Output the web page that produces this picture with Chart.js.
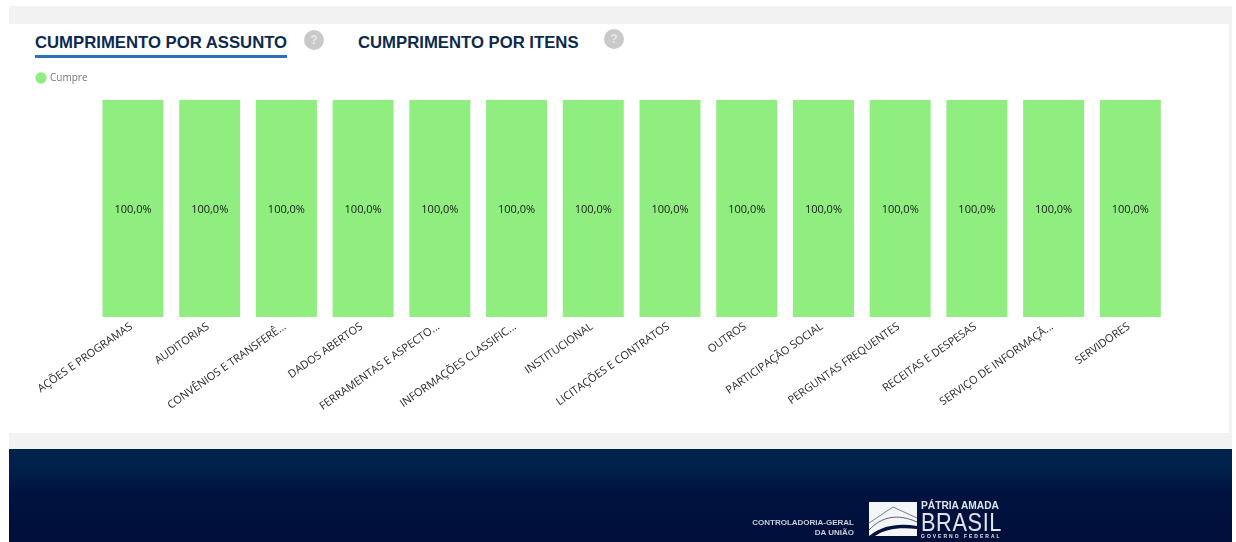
<!DOCTYPE html>
<html lang="pt-BR">
<head>
<meta charset="utf-8">
<title>Cumprimento por assunto</title>
<script src="https://cdn.jsdelivr.net/npm/chart.js@4/dist/chart.umd.min.js"></script>
<style>
  html, body { margin: 0; padding: 0; background: #fff; width: 1236px; height: 542px; overflow: hidden; }
  body { position: relative; font-family: "Liberation Sans", Arial, sans-serif; }
  .band { position: absolute; left: 9px; top: 6px; width: 1223px; height: 443px; background: #f2f2f2; }
  .card { position: absolute; left: 9px; top: 24px; width: 1220px; height: 409px; background: #fff; }
  .tab { position: absolute; font-weight: 700; font-size: 16.72px; line-height: 20px; color: #0c2a4e; white-space: nowrap; }
  .rule { position: absolute; left: 35px; top: 55px; width: 252px; height: 3px; background: #2b70bd; }
  .help { position: absolute; width: 20px; height: 20px; border-radius: 50%; background: #c9c9c9; color: #e8e8e8;
          font: 700 12px/20px "Liberation Sans", sans-serif; text-align: center; }
  #wrap { position: absolute; left: 9.5px; top: 40px; width: 1158.7px; height: 393px; }
  .footer { position: absolute; left: 9px; top: 449px; width: 1223px; height: 93px;
            background: linear-gradient(#00234d 0%, #00214b 22%, #001340 45%, #000f3a 100%); }
  .agency { position: absolute; right: 378px; top: 69px; width: 140px; text-align: right; color: #c9ced8;
            font: 700 8px/9.5px "Liberation Sans", sans-serif; filter: blur(.35px); }
  .motto { position: absolute; left: 912px; top: 50px; color: #dfe3ea; filter: blur(.3px); }
  .motto div { white-space: nowrap; transform-origin: 0 50%; }
  svg.mark { position: absolute; left: 860px; top: 52px; filter: blur(.3px); }
</style>
</head>
<body>
<div class="band"></div>
<div class="card"></div>
<div class="tab" style="left:35px;top:33px">CUMPRIMENTO POR ASSUNTO</div>
<div class="rule"></div>
<div class="help" style="left:304px;top:30px">?</div>
<div class="tab" style="left:358px;top:33px">CUMPRIMENTO POR ITENS</div>
<div class="help" style="left:604px;top:29px">?</div>
<div id="wrap"><canvas id="chart"></canvas></div>
<div class="footer">
  <div class="agency">CONTROLADORIA-GERAL<br>DA UNIÃO</div>
  <svg class="mark" width="49" height="36" viewBox="0 0 49 36">
    <rect x="0" y="1" width="48" height="34" fill="#f4f5f7"/>
    <path d="M0 22 L24 6 L48 17" fill="none" stroke="#6f7f96" stroke-width="1"/>
    <path d="M0 29 C12 16 28 12 48 21" fill="none" stroke="#53647f" stroke-width="1"/>
    <path d="M0 35 C14 24 30 22 48 25 L48 28 C30 26 16 28 6 35 Z" fill="#001340"/>
  </svg>
  <div class="motto">
    <div style="font:700 10.2px/12px 'Liberation Sans',sans-serif;margin-top:1px">PÁTRIA AMADA</div>
    <div style="font:400 25px/20px 'Liberation Sans',sans-serif;letter-spacing:.7px;transform:scaleX(.87)">BRASIL</div>
    <div style="font:700 5px/8px 'Liberation Sans',sans-serif;letter-spacing:2px">GOVERNO FEDERAL</div>
  </div>
</div>
<script>
// Compliance per subject
const categories = [
  "AÇÕES E PROGRAMAS", "AUDITORIAS", "CONVÊNIOS E TRANSFERÊ...", "DADOS ABERTOS",
  "FERRAMENTAS E ASPECTO...", "INFORMAÇÕES CLASSIFIC...", "INSTITUCIONAL",
  "LICITAÇÕES E CONTRATOS", "OUTROS", "PARTICIPAÇÃO SOCIAL", "PERGUNTAS FREQUENTES",
  "RECEITAS E DESPESAS", "SERVIÇO DE INFORMAÇÃ...", "SERVIDORES"
];
const cumpre = [100, 100, 100, 100, 100, 100, 100, 100, 100, 100, 100, 100, 100, 100];
const seriesName = "Cumpre";

const barGreen = "#90ee81";
const uiFont = '"Open Sans", sans-serif';

// Writes each bar's value, with a decimal comma, at the bar's centre
const valueLabels = {
  id: "valueLabels",
  afterDatasetsDraw(chart) {
    const { ctx } = chart;
    const meta = chart.getDatasetMeta(0);
    ctx.save();
    ctx.font = "11px " + uiFont;
    ctx.fillStyle = "#1a1a1a";
    ctx.textAlign = "center";
    ctx.textBaseline = "middle";
    meta.data.forEach((bar, i) => {
      const text = cumpre[i].toFixed(1).replace(".", ",") + "%";
      ctx.fillText(text, bar.x, (bar.y + bar.base) / 2 + 1);
    });
    ctx.restore();
  }
};

// Leaves extra room between the legend and the bars
const legendGap = {
  id: "legendGap",
  beforeInit(chart) {
    const fit = chart.legend.fit;
    chart.legend.fit = function () {
      fit.call(this);
      this.height += 7;
    };
  }
};

new Chart(document.getElementById("chart"), {
  type: "bar",
  data: {
    labels: categories,
    datasets: [{
      label: seriesName,
      data: cumpre,
      backgroundColor: barGreen,
      borderWidth: 0,
      barPercentage: 0.795,
      categoryPercentage: 1
    }]
  },
  options: {
    responsive: true,
    maintainAspectRatio: false,
    animation: false,
    layout: { padding: { left: 0, right: 0, top: 6, bottom: 0 } },
    plugins: {
      tooltip: { enabled: false },
      legend: {
        display: true,
        position: "top",
        align: "start",
        labels: {
          usePointStyle: true,
          pointStyle: "circle",
          boxWidth: 8,
          boxHeight: 8,
          padding: 27,
          color: "#777",
          font: { family: uiFont, size: 10 }
        }
      }
    },
    scales: {
      x: {
        grid: { display: false },
        border: { display: false },
        ticks: {
          autoSkip: false,
          minRotation: 35,
          maxRotation: 35,
          padding: -5,
          labelOffset: -1.5,
          color: "#2b2b2b",
          font: { family: uiFont, size: 11 }
        },
        afterFit(scale) { scale.height = 116; }
      },
      y: {
        min: 0,
        max: 100,
        grid: { display: false },
        border: { display: false },
        ticks: { display: false },
        afterFit(scale) { scale.width = 84.6; }
      }
    }
  },
  plugins: [valueLabels, legendGap]
});
</script>
</body>
</html>
